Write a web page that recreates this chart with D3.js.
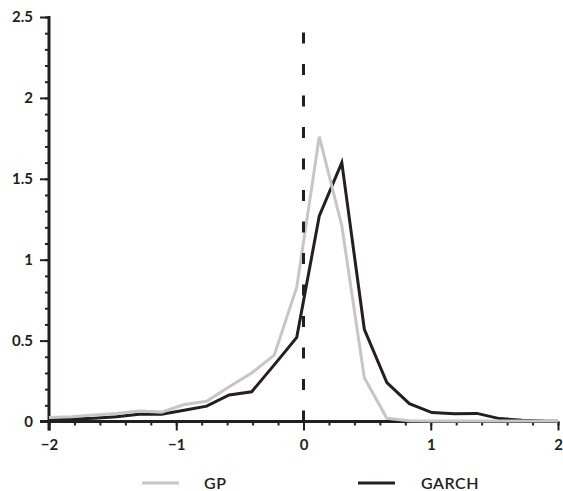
<!DOCTYPE html>
<html>
<head>
<meta charset="utf-8">
<script src="https://cdn.jsdelivr.net/npm/d3@7/dist/d3.min.js"></script>
<style>
  body { margin: 0; background: #fff; }
  svg text { font-family: "Lato", "Open Sans", sans-serif; fill: #231f20; }
</style>
</head>
<body>
<svg id="chart"></svg>
<script>
// grid of return values along the x axis
const xGrid = [-2, -1.823, -1.646, -1.469, -1.292, -1.115, -0.938, -0.761, -0.584, -0.407, -0.23, -0.053,
  0.124, 0.301, 0.478, 0.655, 0.832, 1.009, 1.186, 1.363, 1.54, 1.717, 1.894, 2];

const gpValues = [0.024, 0.03, 0.04, 0.05, 0.065, 0.058, 0.105, 0.125, 0.215, 0.30, 0.41, 0.83,
  1.76, 1.21, 0.27, 0.02, 0.005, 0.003, 0.003, 0.003, 0.003, 0.003, 0.003, 0.003];

const garchValues = [0.01, 0.015, 0.02, 0.03, 0.045, 0.045, 0.07, 0.095, 0.164, 0.184, 0.35, 0.52,
  1.27, 1.6, 0.57, 0.24, 0.11, 0.055, 0.048, 0.05, 0.018, 0.008, 0.003, 0.002];

const xTicks = [-2, -1, 0, 1, 2];
const yTicks = [0, 0.5, 1, 1.5, 2, 2.5];

const series = [
  { name: "GARCH", values: garchValues, colour: "#231f20" },
  { name: "GP", values: gpValues, colour: "#c6c6c6" }
];

const width = 563, height = 491;
const ink = "#231f20";

const svg = d3.select("#chart")
  .attr("width", width)
  .attr("height", height);

const x = d3.scaleLinear().domain([-2, 2]).range([49, 558]);
const y = d3.scaleLinear().domain([0, 2.5]).range([421.5, 17]);

// minor ticks first (shorter), then the major ones with labels
svg.append("g")
  .attr("transform", `translate(0,${y(0)})`)
  .call(d3.axisBottom(x).tickValues(d3.range(-2, 2.001, 0.2)).tickSize(4).tickFormat(""))
  .call(g => g.select(".domain").remove());

svg.append("g")
  .attr("transform", `translate(${x(-2)},0)`)
  .call(d3.axisLeft(y).tickValues(d3.range(0, 2.501, 0.1)).tickSize(4).tickFormat(""))
  .call(g => g.select(".domain").remove());

const xAxis = svg.append("g")
  .attr("class", "x-axis")
  .attr("transform", `translate(0,${y(0)})`)
  .call(d3.axisBottom(x).tickValues(xTicks).tickSize(9).tickPadding(6)
    .tickFormat(d => d < 0 ? "\u2212" + Math.abs(d) : d));
xAxis.select(".domain").remove();

const yAxis = svg.append("g")
  .attr("class", "y-axis")
  .attr("transform", `translate(${x(-2)},0)`)
  .call(d3.axisLeft(y).tickValues(yTicks).tickSize(9).tickPadding(7)
    .tickFormat(d => d));
yAxis.select(".domain").remove();

svg.selectAll(".tick line").attr("stroke", ink).attr("stroke-width", 2);
svg.selectAll(".tick text")
  .style("font-size", "15px")
  .style("font-weight", "bold")
  .attr("fill", ink);
xAxis.selectAll(".tick text").attr("dy", "0.9em");

// axis lines
svg.append("line")
  .attr("x1", x(-2) - 9).attr("x2", x(2))
  .attr("y1", y(0)).attr("y2", y(0))
  .attr("stroke", ink).attr("stroke-width", 3);

svg.append("line")
  .attr("x1", x(-2)).attr("x2", x(-2))
  .attr("y1", y(2.5) - 1).attr("y2", y(0) + 9)
  .attr("stroke", ink).attr("stroke-width", 3);

// density curves
const line = d3.line()
  .x((d, i) => x(xGrid[i]))
  .y(d => y(d));

svg.selectAll(".curve")
  .data(series)
  .enter()
  .append("path")
  .attr("class", "curve")
  .attr("d", d => line(d.values))
  .attr("fill", "none")
  .attr("stroke", d => d.colour)
  .attr("stroke-width", 3)
  .attr("stroke-linejoin", "miter");

// dashed zero line
svg.append("line")
  .attr("x1", x(0)).attr("x2", x(0))
  .attr("y1", y(0)).attr("y2", y(2.5))
  .attr("stroke", ink)
  .attr("stroke-width", 3)
  .attr("stroke-dasharray", "11,20.5");

// legend
const legend = svg.append("g").attr("class", "legend");
const legendItems = [
  { name: "GP", colour: "#c6c6c6", x0: 142, tx: 204 },
  { name: "GARCH", colour: ink, x0: 358, tx: 421 }
];

legendItems.forEach(item => {
  legend.append("line")
    .attr("x1", item.x0).attr("x2", item.x0 + 37)
    .attr("y1", 483).attr("y2", 483)
    .attr("stroke", item.colour)
    .attr("stroke-width", 3);
  legend.append("text")
    .attr("x", item.tx)
    .attr("y", 489)
    .style("font-size", "16px")
    .style("font-weight", "600")
    .style("letter-spacing", "0.5px")
    .text(item.name);
});
</script>
</body>
</html>
